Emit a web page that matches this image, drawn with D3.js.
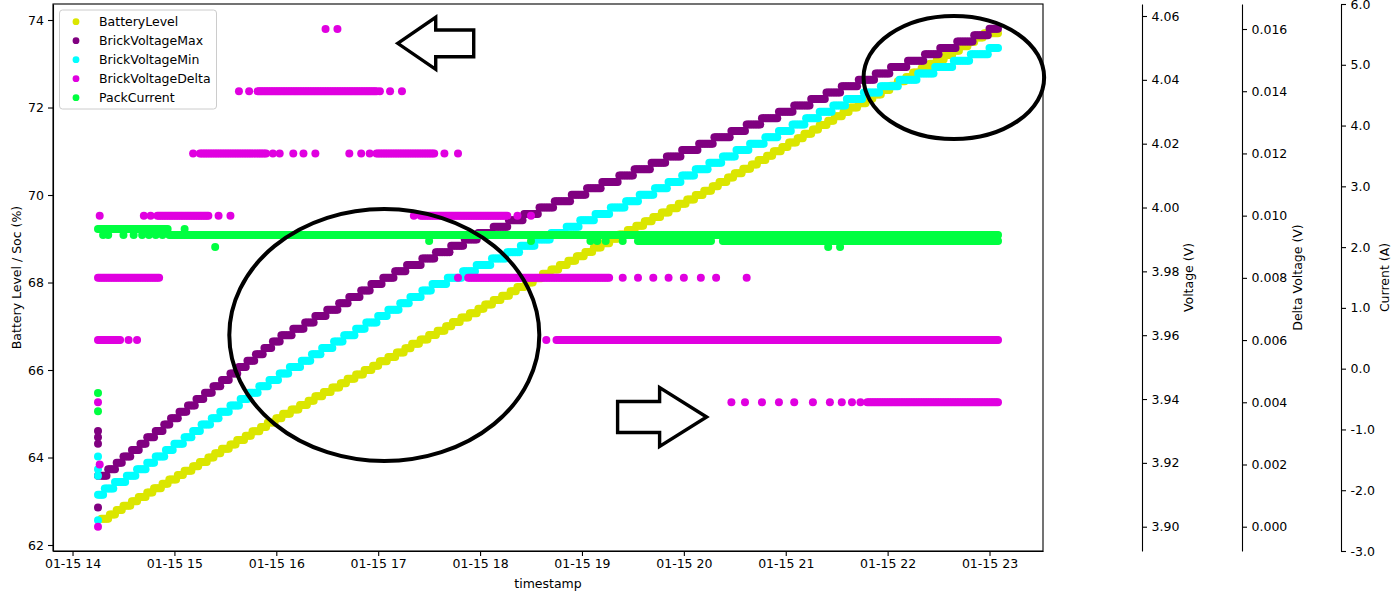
<!DOCTYPE html>
<html><head><meta charset="utf-8">
<script src="https://cdn.jsdelivr.net/npm/d3@7"></script>
<style>
body{margin:0;background:#fff}
svg{display:block}
text{font-family:"DejaVu Sans",sans-serif}
</style>
</head><body>
<svg id="c" width="1400" height="599"></svg>
<script>
// ---------------- DATA (minutes after 01-15 14:00) ----------------
const seriesNames = ["BatteryLevel","BrickVoltageMax","BrickVoltageMin","BrickVoltageDelta","PackCurrent"];
const xTickHours = [14,15,16,17,18,19,20,21,22,23];
const socTicks = [62,64,66,68,70,72,74];
const voltageTicks = [3.90,3.92,3.94,3.96,3.98,4.00,4.02,4.04,4.06];
const deltaTicks = [0,0.002,0.004,0.006,0.008,0.010,0.012,0.014,0.016];
const currentTicks = [-3,-2,-1,0,1,2,3,4,5,6];
const lastMinute = 545;

// BatteryLevel: [minute the reading changes, new value]
const batteryLevelSteps = [[17,62.6],[22,62.7],[26,62.8],[30,62.9],[35,63.0],[39,63.1],[44,63.2],[48,63.3],[53,63.4],[57,63.5],[62,63.6],[66,63.7],[71,63.8],[75,63.9],[80,64.0],[84,64.1],[88,64.2],[93,64.3],[97,64.4],[102,64.5],[106,64.6],[111,64.7],[115,64.8],[120,64.9],[124,65.0],[129,65.1],[134,65.2],[139,65.3],[143,65.4],[148,65.5],[153,65.6],[158,65.7],[162,65.8],[167,65.9],[172,66.0],[177,66.1],[181,66.2],[186,66.3],[191,66.4],[196,66.5],[200,66.6],[205,66.7],[210,66.8],[215,66.9],[220,67.0],[224,67.1],[229,67.2],[234,67.3],[239,67.4],[243,67.5],[248,67.6],[253,67.7],[258,67.8],[262,67.9],[267,68.0],[272,68.1],[277,68.2],[282,68.3],[287,68.4],[292,68.5],[297,68.6],[302,68.7],[307,68.8],[312,68.9],[317,69.0],[322,69.1],[327,69.2],[332,69.3],[337,69.4],[342,69.5],[347,69.6],[352,69.7],[357,69.8],[362,69.9],[367,70.0],[372,70.1],[377,70.2],[381,70.3],[386,70.4],[390,70.5],[395,70.6],[400,70.7],[404,70.8],[409,70.9],[413,71.0],[418,71.1],[422,71.2],[427,71.3],[431,71.4],[436,71.5],[440,71.6],[445,71.7],[449,71.8],[454,71.9],[458,72.0],[463,72.1],[468,72.2],[472,72.3],[477,72.4],[482,72.5],[486,72.6],[491,72.7],[495,72.8],[500,72.9],[505,73.0],[509,73.1],[514,73.2],[519,73.3],[523,73.4],[528,73.5],[532,73.6],[537,73.7]];

// BrickVoltageMax (V)
const brickVoltageMaxStart = [[15,3.930],[15,3.928],[15,3.926],[15,3.916],[15,3.906]];
const brickVoltageMaxSteps = [[17,3.916],[21,3.918],[26,3.920],[30,3.922],[35,3.924],[40,3.926],[44,3.928],[49,3.930],[54,3.932],[58,3.934],[63,3.936],[68,3.938],[73,3.940],[78,3.942],[83,3.944],[88,3.946],[93,3.948],[98,3.950],[103,3.952],[108,3.954],[113,3.956],[118,3.958],[123,3.960],[130,3.962],[137,3.964],[143,3.966],[150,3.968],[157,3.970],[163,3.972],[170,3.974],[176,3.976],[183,3.978],[190,3.980],[197,3.982],[206,3.984],[214,3.986],[223,3.988],[231,3.990],[239,3.992],[248,3.994],[257,3.996],[266,3.998],[275,4.000],[284,4.002],[294,4.004],[303,4.006],[312,4.008],[322,4.010],[331,4.012],[341,4.014],[350,4.016],[359,4.018],[369,4.020],[378,4.022],[388,4.024],[397,4.026],[406,4.028],[416,4.030],[425,4.032],[435,4.034],[444,4.036],[453,4.038],[463,4.040],[473,4.042],[482,4.044],[492,4.046],[502,4.048],[511,4.050],[521,4.052],[531,4.054],[540,4.056]];

// BrickVoltageMin (V)
const brickVoltageMinStart = [[15,3.922],[15,3.918],[15,3.916],[15,3.910],[15,3.902]];
const brickVoltageMinSteps = [[16,3.910],[19,3.912],[25,3.914],[32,3.916],[38,3.918],[44,3.920],[49,3.922],[55,3.924],[60,3.926],[66,3.928],[71,3.930],[76,3.932],[82,3.934],[87,3.936],[93,3.938],[99,3.940],[104,3.942],[110,3.944],[116,3.946],[122,3.948],[128,3.950],[135,3.952],[141,3.954],[147,3.956],[154,3.958],[160,3.960],[167,3.962],[173,3.964],[180,3.966],[186,3.968],[193,3.970],[199,3.972],[206,3.974],[212,3.976],[221,3.978],[230,3.980],[238,3.982],[247,3.984],[256,3.986],[264,3.988],[273,3.990],[282,3.992],[291,3.994],[299,3.996],[308,3.998],[317,4.000],[326,4.002],[334,4.004],[343,4.006],[351,4.008],[359,4.010],[367,4.012],[375,4.014],[383,4.016],[391,4.018],[399,4.020],[408,4.022],[416,4.024],[424,4.026],[432,4.028],[440,4.030],[448,4.032],[456,4.034],[466,4.036],[476,4.038],[487,4.040],[498,4.042],[508,4.044],[519,4.046],[529,4.048],[540,4.050]];

// BrickVoltageDelta (V): [from minute, to minute, value], one reading per minute
const brickVoltageDeltaRuns = [
 [15,15,0.004],[16,16,0.002],[15,15,0.000],[16,16,0.010],
 [15,51,0.008],
 [15,28,0.006],[33,33,0.006],[38,38,0.006],
 [42,42,0.010],[46,46,0.010],[50,80,0.010],[86,86,0.010],[93,93,0.010],
 [71,71,0.012],[75,114,0.012],[118,118,0.012],[122,122,0.012],[130,130,0.012],[136,136,0.012],[143,143,0.012],
 [163,163,0.012],[170,170,0.012],[175,175,0.012],[179,213,0.012],[219,219,0.012],[227,227,0.012],
 [98,98,0.014],[104,104,0.014],[109,179,0.014],[181,181,0.014],[187,187,0.014],[194,194,0.014],
 [149,149,0.016],[156,156,0.016],
 [201,201,0.010],[205,256,0.010],[262,262,0.010],[270,270,0.010],
 [227,227,0.008],[233,316,0.008],
 [324,324,0.008],[333,333,0.008],[342,342,0.008],[351,351,0.008],[360,360,0.008],[370,370,0.008],[379,379,0.008],[397,397,0.008],
 [279,279,0.006],[285,545,0.006],
 [388,388,0.004],[396,396,0.004],[406,406,0.004],[416,416,0.004],[425,425,0.004],[436,436,0.004],
 [446,446,0.004],[453,453,0.004],[459,459,0.004],[464,464,0.004],[468,545,0.004]
];

// PackCurrent (A)
const packCurrentRuns = [
 [15,15,-0.4],[15,15,-0.7],
 [15,56,2.3],
 [18,18,2.2],[21,21,2.2],[30,30,2.2],[36,36,2.2],[41,41,2.2],[45,45,2.2],[49,49,2.2],[53,53,2.2],
 [57,545,2.2],
 [66,66,2.3],[84,84,2.0],
 [210,210,2.1],[270,270,2.1],[305,305,2.1],[309,309,2.1],[314,314,2.1],[324,324,2.1],
 [333,376,2.1],[383,545,2.1],
 [445,445,2.0],[452,452,2.0]
];

const seriesColors = ["#dbe600","#800080","#00ffff","#e000e0","#00ff40"];

// ---------------- BUILD ----------------
const baseTime = new Date(2023,0,15,14,0,0);
const toTime = m => new Date(baseTime.getTime() + m*60000);

function stepsToPoints(steps){
  const out=[];
  steps.forEach((s,i)=>{
    const to = i<steps.length-1 ? steps[i+1][0]-1 : lastMinute;
    for(let m=s[0]; m<=to; m++) out.push([m,s[1]]);
  });
  return out;
}
function runsToPoints(runs){
  const out=[];
  runs.forEach(r=>{ for(let m=r[0]; m<=r[1]; m++) out.push([m,r[2]]); });
  return out;
}

const batteryPts = stepsToPoints(batteryLevelSteps);
const maxPts = brickVoltageMaxStart.concat(stepsToPoints(brickVoltageMaxSteps));
const minPts = brickVoltageMinStart.concat(stepsToPoints(brickVoltageMinSteps));
const deltaPts = runsToPoints(brickVoltageDeltaRuns);
const currentPts = runsToPoints(packCurrentRuns);

const P = {left:53, right:1043, top:4, bottom:551};
const allM = [].concat(batteryPts,maxPts,minPts,deltaPts,currentPts).map(d=>d[0]);
const mMin = d3.min(allM), mMax = d3.max(allM), pad = (mMax-mMin)*0.05;

const x = d3.scaleTime().domain([toTime(mMin-pad), toTime(mMax+pad)]).range([P.left,P.right]);
const ySoc = d3.scaleLinear().domain([61.863,74.366]).range([P.bottom,P.top]);
const yVolt = d3.scaleLinear().domain([3.89239,4.06376]).range([P.bottom,P.top]);
const yDelta = d3.scaleLinear().domain([-0.000781,0.016804]).range([P.bottom,P.top]);
const yCur = d3.scaleLinear().domain([-3,6]).range([P.bottom,P.top]);

const svg = d3.select("#c");
const FS = 12.5;
const R = 4.0;

// data layers
const layers = [
  [batteryPts, ySoc, seriesColors[0]],
  [maxPts, yVolt, seriesColors[1]],
  [minPts, yVolt, seriesColors[2]],
  [deltaPts, yDelta, seriesColors[3]],
  [currentPts, yCur, seriesColors[4]]
];
layers.forEach(([pts,ys,col])=>{
  svg.append("g").selectAll("circle").data(pts).join("circle")
    .attr("cx",d=>x(toTime(d[0]))).attr("cy",d=>ys(d[1])).attr("r",R).attr("fill",col);
});

// axes
function styleAxis(g){
  g.selectAll("text").attr("font-size",FS).attr("font-family","DejaVu Sans").attr("fill","#000");
  g.selectAll("line").attr("stroke","#000").attr("stroke-width",1.1);
  g.selectAll(".domain").attr("stroke","#000").attr("stroke-width",1.1);
}
const xAxis = d3.axisBottom(x).tickValues(xTickHours.map(h=>toTime((h-14)*60)))
  .tickFormat(d3.timeFormat("%m-%d %H")).tickSize(5).tickSizeOuter(0).tickPadding(3);
svg.append("g").attr("transform",`translate(0,${P.bottom})`).call(xAxis).call(styleAxis);

const yAxis = d3.axisLeft(ySoc).tickValues(socTicks).tickFormat(d3.format("d")).tickSize(5).tickSizeOuter(0).tickPadding(4);
svg.append("g").attr("transform",`translate(${P.left},0)`).call(yAxis).call(styleAxis);

// frame
svg.append("rect").attr("x",P.left).attr("y",P.top).attr("width",P.right-P.left).attr("height",P.bottom-P.top)
  .attr("fill","none").attr("stroke","#000").attr("stroke-width",1.1);

const rightAxes = [
  [1142, yVolt, voltageTicks, d=>d.toFixed(2), "Voltage (V)", 1188],
  [1242, yDelta, deltaTicks, d=>d.toFixed(3), "Delta Voltage (V)", 1297],
  [1341, yCur, currentTicks, d=>d.toFixed(1), "Current (A)", 1384]
];
rightAxes.forEach(([xp,sc,tv,fmt,label,lx])=>{
  const a = d3.axisRight(sc).tickValues(tv).tickFormat(fmt).tickSize(5).tickSizeOuter(0).tickPadding(4.5);
  svg.append("g").attr("transform",`translate(${xp},0)`).call(a).call(styleAxis);
  svg.append("text").attr("transform",`translate(${lx},${(P.top+P.bottom)/2}) rotate(-90)`)
    .attr("text-anchor","middle").attr("dominant-baseline","central").attr("font-size",FS).text(label);
});

svg.append("text").attr("transform",`translate(16,${(P.top+P.bottom)/2}) rotate(-90)`)
  .attr("text-anchor","middle").attr("dominant-baseline","central").attr("font-size",FS).text("Battery Level / Soc (%)");
svg.append("text").attr("x",(P.left+P.right)/2).attr("y",583)
  .attr("text-anchor","middle").attr("dominant-baseline","central").attr("font-size",FS).text("timestamp");

// legend
const lg = svg.append("g");
lg.append("rect").attr("x",59.5).attr("y",10).attr("width",157).attr("height",99).attr("rx",3)
  .attr("fill","#fff").attr("fill-opacity",0.8).attr("stroke","#cccccc").attr("stroke-width",1);
seriesNames.forEach((n,i)=>{
  const cy = 21.7 + i*19;
  lg.append("circle").attr("cx",76).attr("cy",cy).attr("r",3.4).attr("fill",seriesColors[i]);
  lg.append("text").attr("x",99).attr("y",cy).attr("dominant-baseline","central").attr("font-size",FS).text(n);
});

// annotations (anchored in data coordinates)
const ann = svg.append("g").attr("fill","none").attr("stroke","#000");
ann.append("ellipse").attr("cx",x(toTime(183.6))).attr("cy",ySoc(66.8)).attr("rx",155).attr("ry",126).attr("stroke-width",4);
ann.append("ellipse").attr("cx",x(toTime(519))).attr("cy",ySoc(72.686)).attr("rx",90.3).attr("ry",61.5).attr("stroke-width",4);
function arrow(tx,ty,dir){
  const s = dir;
  const pts = [[0,0],[-s*38,-26],[-s*38,-13.3],[-s*76,-13.3],[-s*76,13.4],[-s*38,13.4],[-s*38,26]];
  ann.append("polygon").attr("points",pts.map(p=>[tx+p[0],ty+p[1]].join(",")).join(" "))
    .attr("stroke-width",3.4).attr("stroke-linejoin","miter");
}
arrow(x(toTime(191.5)), ySoc(73.468), -1);
(function(){
  const tx = x(toTime(373.4)), ty = ySoc(64.926);
  const pts = [[0,0],[-47,-29.5],[-47,-15.5],[-89,-15.5],[-89,15.5],[-47,15.5],[-47,29.5]];
  ann.append("polygon").attr("points",pts.map(p=>[tx+p[0],ty+p[1]].join(",")).join(" "))
    .attr("stroke-width",3.4);
})();
</script>
</body></html>
